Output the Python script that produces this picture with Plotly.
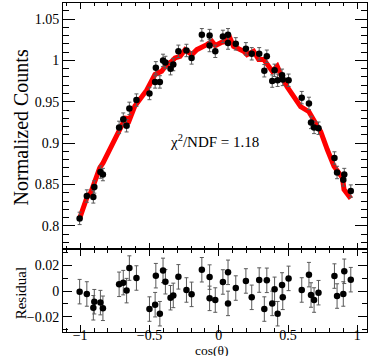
import plotly.graph_objects as go
from plotly.subplots import make_subplots

# ── Data: angular distribution + fit residuals ─────────────────────────
cos_theta = [
    -1.004, -0.952, -0.905, -0.898, -0.854, -0.836, -0.719, -0.689, -0.665,
    -0.645, -0.594, -0.500, -0.459, -0.454, -0.425, -0.402, -0.385, -0.348,
    -0.328, -0.291, -0.233, -0.196, -0.122, -0.066, -0.066, -0.025, 0.030,
    0.067, 0.067, 0.123, 0.196, 0.238, 0.292, 0.329, 0.347, 0.386, 0.403,
    0.425, 0.457, 0.462, 0.504, 0.599, 0.651, 0.666, 0.688, 0.720, 0.835,
    0.854, 0.899, 0.906, 0.953,
]
counts = [
    0.809, 0.836, 0.835, 0.847, 0.865, 0.862, 0.919, 0.929, 0.921,
    0.942, 0.952, 0.960, 0.974, 0.991, 0.974, 1.000, 0.9975, 0.990,
    0.995, 1.011, 1.012, 1.003, 1.031, 1.030, 1.018, 1.011, 1.029,
    1.031, 1.021, 1.020, 1.014, 1.008, 1.008, 0.9875, 1.005, 0.975, 0.988,
    0.976, 0.982, 0.977, 0.976, 0.955, 0.948, 0.925, 0.919, 0.918, 0.882,
    0.8645, 0.8556, 0.862, 0.842,
]
residual = [
    -0.0005, -0.0023, -0.0130, -0.0083, -0.0090, -0.0134, 0.0052, 0.0065, 0.0003,
    0.0178, 0.0101, -0.0140, -0.0106, 0.0119, -0.0176, 0.0160, 0.0072, -0.0052,
    -0.0034, 0.0110, 0.0008, -0.0026, 0.0165, 0.0108, -0.0057, -0.0070, 0.0070,
    0.0145, -0.0096, 0.0023, 0.0078, -0.0049, 0.0085, -0.0140, 0.0083, -0.0096, 0.0013,
    -0.0176, 0.0047, -0.0049, 0.0098, 0.0008, 0.0127, -0.0031, -0.0070, -0.0013, 0.0116,
    -0.0039, -0.0023, 0.0153, 0.0088,
]
COUNT_ERR = 0.0075
RES_ERR = 0.0095

# fit prediction (red band)
fit_x = [
    -1.004, -0.948, -0.924, -0.907, -0.859, -0.835, -0.786, -0.723, -0.690,
    -0.668, -0.654, -0.605, -0.520, -0.460, -0.412, -0.375, -0.339, -0.315,
    -0.279, -0.243, -0.194, -0.158, -0.086, -0.049, -0.025, 0.023, 0.059,
    0.071, 0.107, 0.180, 0.204, 0.252, 0.288, 0.325, 0.386, 0.422, 0.458,
    0.494, 0.591, 0.651, 0.699, 0.736, 0.784, 0.832, 0.893, 0.904, 0.953,
]
fit_y = [
    0.809, 0.836, 0.840, 0.848, 0.870, 0.876, 0.893, 0.916, 0.927,
    0.932, 0.924, 0.945, 0.964, 0.983, 0.987, 0.995, 0.999, 1.003,
    1.005, 1.013, 1.007, 1.013, 1.019, 1.023, 1.018, 1.022, 1.023,
    1.031, 1.017, 1.011, 1.007, 1.011, 1.001, 1.001, 0.987, 0.993, 0.979,
    0.968, 0.944, 0.938, 0.924, 0.914, 0.892, 0.872, 0.858, 0.844, 0.833,
]

FONT = "Liberation Serif, Times New Roman, serif"
ERR_COLOR = "#5a5a5a"

fig = make_subplots(rows=2, cols=1, shared_xaxes=True, vertical_spacing=0,
                    row_heights=[0.7477, 0.2523])

fig.add_trace(go.Scatter(
    x=fit_x, y=fit_y, mode="lines",
    line=dict(color="#ff0000", width=5),
), row=1, col=1)

fig.add_trace(go.Scatter(
    x=cos_theta, y=counts, mode="markers",
    marker=dict(color="black", size=6.5),
    error_y=dict(type="constant", value=COUNT_ERR, color=ERR_COLOR, thickness=1, width=2),
), row=1, col=1)

fig.add_hline(y=0, line=dict(color="#888888", width=1, dash="4px,3px"),
              layer="below", row=2, col=1)

fig.add_trace(go.Scatter(
    x=cos_theta, y=residual, mode="markers",
    marker=dict(color="black", size=6.5),
    error_y=dict(type="constant", value=RES_ERR, color=ERR_COLOR, thickness=1, width=2),
), row=2, col=1)

# ── Axes (ROOT-like frame, inside ticks on all sides) ─────────────────
frame = dict(showline=True, linecolor="black", linewidth=1, mirror="ticks",
             ticks="inside", tickcolor="black", showgrid=False, zeroline=False)

fig.update_xaxes(range=[-1.124, 1.07], tick0=0, dtick=0.5, **frame)
fig.update_xaxes(ticklen=6, showticklabels=False,
                 minor=dict(ticks="inside", dtick=0.1, ticklen=3, tickcolor="black"),
                 row=1, col=1)
fig.update_xaxes(ticklen=7, ticklabelstandoff=-10,
                 minor=dict(ticks="inside", dtick=0.1, ticklen=4, tickcolor="black"),
                 row=2, col=1)

fig.update_yaxes(range=[0.772, 1.0694], tick0=0.8, dtick=0.05, ticklen=12,
                 minor=dict(ticks="inside", dtick=0.01, ticklen=6, tickcolor="black"),
                 row=1, col=1, **frame)
fig.update_yaxes(range=[-0.0318, 0.0326], tick0=0, dtick=0.02, ticklen=9,
                 minor=dict(ticks="inside", dtick=0.01, ticklen=5, tickcolor="black"),
                 row=2, col=1, **frame)

# ── Labels ─────────────────────────────────────────────────────────────
fig.add_annotation(x=-0.034, y=0.902, xref="x", yref="y", showarrow=False,
                   xanchor="center", yanchor="middle",
                   text="χ<sup>2</sup>/NDF = 1.18", font=dict(size=15))
fig.add_annotation(x=-0.137, y=0.623, xref="paper", yref="paper", showarrow=False,
                   xanchor="center", yanchor="middle",
                   text="Normalized Counts", textangle=-90, font=dict(size=20))
fig.add_annotation(x=-0.137, y=0.1185, xref="paper", yref="paper", showarrow=False,
                   xanchor="center", yanchor="middle",
                   text="Residual", textangle=-90, font=dict(size=15))
fig.add_annotation(x=0.49, y=-0.055, xref="paper", yref="paper", showarrow=False,
                   xanchor="center", yanchor="middle",
                   text="cos(θ)", font=dict(size=13.5))

fig.update_layout(
    width=374, height=356,
    margin=dict(l=63, r=7, t=3, b=24),
    paper_bgcolor="white", plot_bgcolor="white",
    font=dict(family=FONT, size=14, color="black"),
    showlegend=False,
)

# page body has an 8px default margin; drop it so the figure sits at 0,0
fig.write_html("out.html", config={"displayModeBar": False},
               post_script="document.body.style.margin='0';")
